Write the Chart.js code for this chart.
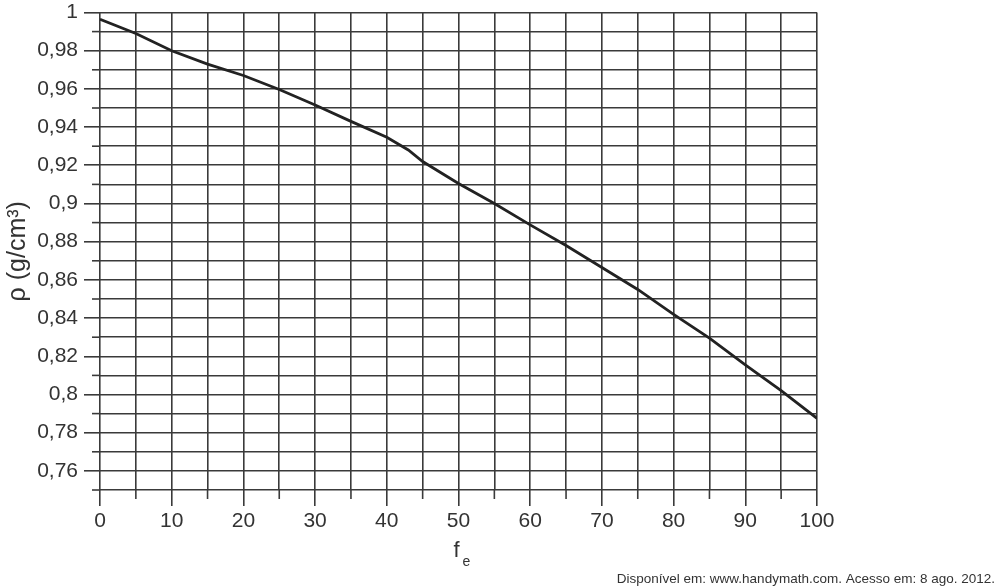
<!DOCTYPE html>
<html>
<head>
<meta charset="utf-8">
<script src="https://cdn.jsdelivr.net/npm/chart.js@4/dist/chart.umd.min.js"></script>
<style>
  html, body { margin: 0; padding: 0; background: #fff; }
  #wrap { width: 1000px; height: 587px; position: relative; }
</style>
</head>
<body>
<div id="wrap"><canvas id="densityChart"></canvas></div>
<script>
// fe (fraction of ethanol, %) vs density
const fe = [0, 5, 10, 15, 20, 25, 30, 35, 40, 43, 45, 50, 55, 60, 65, 70, 75, 80, 85, 90, 95, 100];
const rho = [0.9965, 0.989, 0.980, 0.973, 0.967, 0.9597, 0.9516, 0.943, 0.9347, 0.928, 0.922,
             0.9105, 0.900, 0.8888, 0.878, 0.8665, 0.855, 0.842, 0.8295, 0.8155, 0.802, 0.7875];

const yTitle = "ρ (g/cm³)";
const xTitleMain = "f";
const xTitleSub = "e";
const sourceNote = "Disponível em: www.handymath.com. Acesso em: 8 ago. 2012.";

const gridColor = "#3a3a3a";
const textColor = "#333";
const fontFamily = "'Liberation Sans', Arial, sans-serif";

function isMajorY(v) { return Math.round(v * 100) % 2 === 0; }
function isMajorX(v) { return Math.round(v) % 10 === 0; }

// short ticks for the unlabeled grid lines, plus the f_e title and the source line
const extrasPlugin = {
  id: "extras",
  afterDraw(chart) {
    const ctx = chart.ctx;
    const xs = chart.scales.x, ys = chart.scales.y;
    const area = chart.chartArea;
    ctx.save();
    ctx.strokeStyle = gridColor;
    ctx.lineWidth = 1.6;
    ys.ticks.forEach(t => {
      if (!isMajorY(t.value)) {
        const py = ys.getPixelForValue(t.value);
        ctx.beginPath();
        ctx.moveTo(area.left - 8, py);
        ctx.lineTo(area.left, py);
        ctx.stroke();
      }
    });
    xs.ticks.forEach(t => {
      if (!isMajorX(t.value)) {
        const px = xs.getPixelForValue(t.value);
        ctx.beginPath();
        ctx.moveTo(px, area.bottom);
        ctx.lineTo(px, area.bottom + 9);
        ctx.stroke();
      }
    });

    // x title with subscript
    ctx.fillStyle = textColor;
    ctx.textBaseline = "alphabetic";
    ctx.textAlign = "center";
    const cx = (area.left + area.right) / 2;
    ctx.font = "22px " + fontFamily;
    ctx.fillText(xTitleMain, cx - 2, 557);
    ctx.font = "14px " + fontFamily;
    ctx.fillText(xTitleSub, cx + 8, 566);

    // source
    ctx.font = "13.5px " + fontFamily;
    ctx.textAlign = "right";
    ctx.fillText(sourceNote, 995, 583);
    ctx.restore();
  }
};

new Chart(document.getElementById("densityChart"), {
  type: "line",
  data: {
    datasets: [{
      data: fe.map((x, i) => ({ x, y: rho[i] })),
      borderColor: "#222",
      borderWidth: 2.8,
      pointRadius: 0,
      tension: 0,
      fill: false
    }]
  },
  options: {
    responsive: true,
    maintainAspectRatio: false,
    animation: false,
    layout: { padding: { top: 12.5, right: 183, left: 0, bottom: 0 } },
    plugins: { legend: { display: false }, tooltip: { enabled: false } },
    scales: {
      x: {
        type: "linear",
        min: 0, max: 100,
        border: { display: false },
        grid: {
          color: gridColor,
          lineWidth: 1.6,
          tickLength: 16,
          tickColor: c => isMajorX(c.tick.value) ? gridColor : "rgba(0,0,0,0)"
        },
        ticks: {
          stepSize: 5,
          autoSkip: false,
          maxRotation: 0,
          padding: 3,
          color: textColor,
          font: { size: 21, family: fontFamily },
          callback: v => isMajorX(v) ? String(Math.round(v)) : ""
        },
        afterFit: s => { s.height = 97; }
      },
      y: {
        min: 0.75, max: 1,
        border: { display: false },
        grid: {
          color: gridColor,
          lineWidth: 1.6,
          tickLength: 16,
          tickColor: c => isMajorY(c.tick.value) ? gridColor : "rgba(0,0,0,0)"
        },
        ticks: {
          stepSize: 0.01,
          autoSkip: false,
          padding: 6,
          color: textColor,
          font: { size: 21, family: fontFamily },
          callback: v => isMajorY(v) ? String(Math.round(v * 100) / 100).replace(".", ",") : ""
        },
        title: {
          display: true,
          text: yTitle,
          color: textColor,
          font: { size: 25, family: fontFamily },
          padding: { top: 3, bottom: 0 }
        },
        afterFit: s => { s.width = 100; s.paddingTop = 0; s.paddingBottom = 0; }
      }
    }
  },
  plugins: [extrasPlugin]
});
</script>
</body>
</html>
